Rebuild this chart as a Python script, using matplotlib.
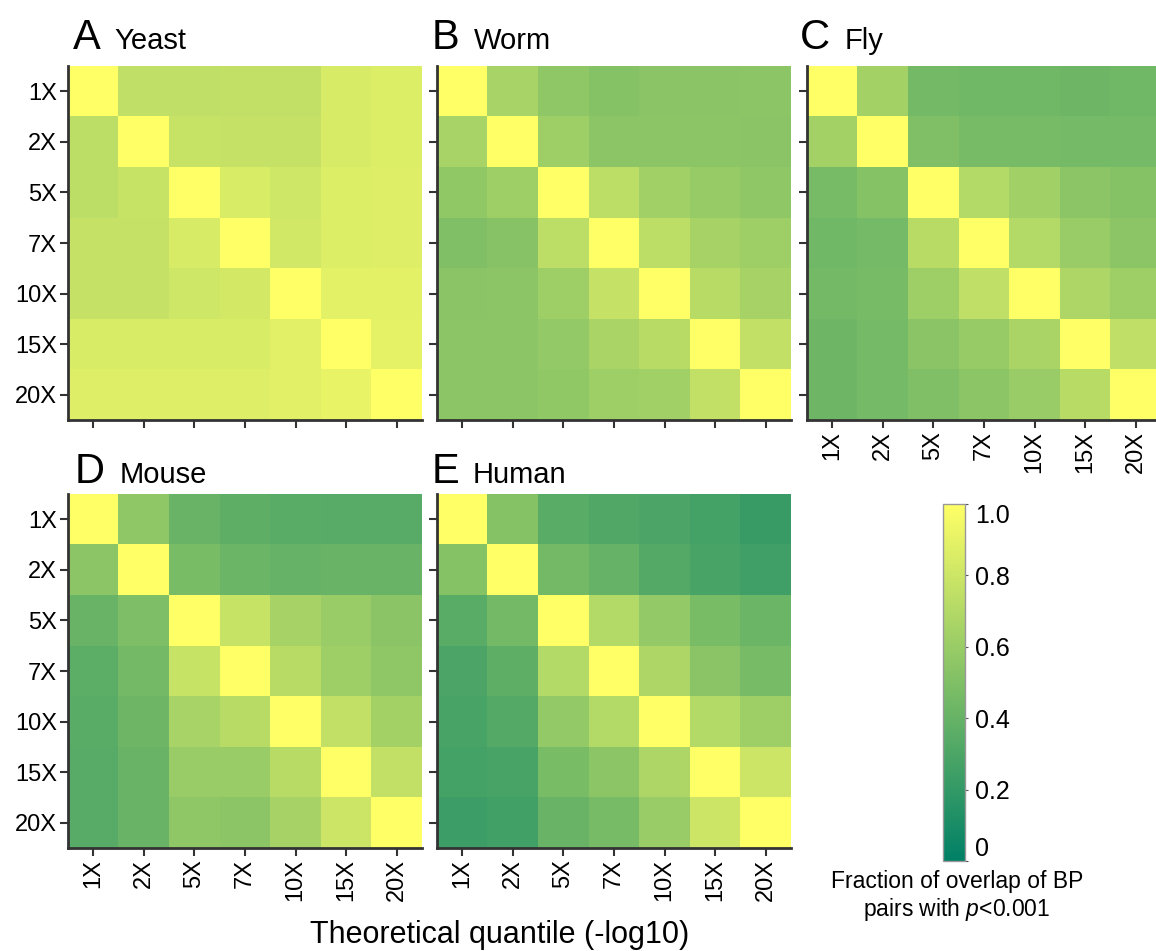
import numpy as np
import matplotlib
matplotlib.use('Agg')
import matplotlib.pyplot as plt

plt.rcParams['font.family'] = ['Liberation Sans', 'DejaVu Sans']
plt.rcParams['mathtext.fontset'] = 'custom'
plt.rcParams['mathtext.it'] = 'Liberation Sans:italic'
plt.rcParams['mathtext.rm'] = 'Liberation Sans'

# Datos
etiquetas = ['1X', '2X', '5X', '7X', '10X', '15X', '20X']

yeast = [
    [1.00, 0.75, 0.75, 0.76, 0.76, 0.84, 0.86],
    [0.74, 1.00, 0.78, 0.77, 0.77, 0.84, 0.86],
    [0.74, 0.78, 1.00, 0.85, 0.81, 0.86, 0.87],
    [0.77, 0.77, 0.84, 1.00, 0.82, 0.86, 0.87],
    [0.77, 0.77, 0.81, 0.83, 1.00, 0.89, 0.89],
    [0.85, 0.85, 0.85, 0.85, 0.88, 1.00, 0.90],
    [0.87, 0.87, 0.87, 0.87, 0.88, 0.91, 1.00],
]
worm = [
    [1.00, 0.66, 0.56, 0.52, 0.54, 0.54, 0.55],
    [0.66, 1.00, 0.62, 0.55, 0.55, 0.55, 0.54],
    [0.57, 0.62, 1.00, 0.74, 0.63, 0.59, 0.56],
    [0.50, 0.53, 0.74, 1.00, 0.74, 0.65, 0.62],
    [0.54, 0.55, 0.62, 0.77, 1.00, 0.72, 0.65],
    [0.55, 0.55, 0.58, 0.67, 0.72, 1.00, 0.76],
    [0.55, 0.55, 0.57, 0.62, 0.63, 0.76, 1.00],
]
fly = [
    [1.00, 0.64, 0.45, 0.44, 0.44, 0.43, 0.44],
    [0.64, 1.00, 0.50, 0.47, 0.47, 0.46, 0.46],
    [0.47, 0.52, 1.00, 0.70, 0.63, 0.55, 0.52],
    [0.44, 0.46, 0.72, 1.00, 0.70, 0.60, 0.55],
    [0.45, 0.47, 0.62, 0.75, 1.00, 0.68, 0.62],
    [0.43, 0.46, 0.54, 0.59, 0.67, 1.00, 0.75],
    [0.43, 0.46, 0.50, 0.55, 0.60, 0.72, 1.00],
]
mouse = [
    [1.00, 0.56, 0.41, 0.37, 0.35, 0.34, 0.34],
    [0.55, 1.00, 0.48, 0.42, 0.40, 0.41, 0.41],
    [0.41, 0.49, 1.00, 0.78, 0.65, 0.60, 0.54],
    [0.36, 0.45, 0.78, 1.00, 0.72, 0.62, 0.56],
    [0.35, 0.43, 0.66, 0.72, 1.00, 0.76, 0.64],
    [0.34, 0.41, 0.60, 0.60, 0.72, 1.00, 0.76],
    [0.34, 0.41, 0.56, 0.55, 0.65, 0.80, 1.00],
]
human = [
    [1.00, 0.52, 0.35, 0.32, 0.30, 0.27, 0.22],
    [0.52, 1.00, 0.45, 0.40, 0.33, 0.28, 0.25],
    [0.35, 0.45, 1.00, 0.70, 0.58, 0.48, 0.42],
    [0.30, 0.37, 0.70, 1.00, 0.68, 0.54, 0.47],
    [0.28, 0.33, 0.58, 0.70, 1.00, 0.70, 0.62],
    [0.27, 0.28, 0.48, 0.55, 0.68, 1.00, 0.80],
    [0.24, 0.26, 0.41, 0.47, 0.60, 0.80, 1.00],
]

W, H = 1156, 951
fig = plt.figure(figsize=(W / 100, H / 100), dpi=100)

def caja(x0, y0, w, h):
    # pixeles -> fraccion de figura
    return [x0 / W, 1 - (y0 + h) / H, w / W, h / H]

# (matriz, letra, nombre, px izquierda, px arriba, ylabels, xlabels, pos letra, pos nombre)
paneles = [
    (yeast, 'A', 'Yeast', 68, 66, True, False, (73, 49), (114, 49)),
    (worm, 'B', 'Worm', 437, 66, False, False, (432, 49), (474, 49)),
    (fly, 'C', 'Fly', 807, 66, False, True, (800, 49), (845, 49)),
    (mouse, 'D', 'Mouse', 68, 494, True, True, (75, 483), (120, 483)),
    (human, 'E', 'Human', 437, 494, False, True, (432, 483), (473, 483)),
]

lado = 354
color_eje = '#333333'
im = None
for datos, letra, nombre, px, py, ylab, xlab, pl, pn in paneles:
    ax = fig.add_axes(caja(px, py, lado, lado))
    im = ax.imshow(np.array(datos), cmap='summer', vmin=0, vmax=1,
                   aspect='auto', interpolation='nearest')
    ax.set_xticks(range(len(etiquetas)))
    ax.set_yticks(range(len(etiquetas)))
    ax.set_xticklabels(etiquetas if xlab else [], rotation=90, fontsize=17)
    ax.set_yticklabels(etiquetas if ylab else [], fontsize=17)
    ax.tick_params(length=6, width=1.5, color=color_eje, pad=2)
    for s in ['top', 'right']:
        ax.spines[s].set_visible(False)
    for s in ['left', 'bottom']:
        ax.spines[s].set_linewidth(2)
        ax.spines[s].set_color(color_eje)
    fig.text(pl[0] / W, 1 - pl[1] / H, letra, fontsize=30, va='baseline', ha='left')
    fig.text(pn[0] / W, 1 - pn[1] / H, nombre, fontsize=21, va='baseline', ha='left')

fig.text(500 / W, 1 - 943 / H, 'Theoretical quantile (-log10)', fontsize=22,
         ha='center', va='baseline')

# Barra de color
cax = fig.add_axes(caja(943, 504, 22, 357))
cb = fig.colorbar(im, cax=cax, ticks=[0, 0.2, 0.4, 0.6, 0.8, 1.0])
cb.ax.set_yticklabels(['0', '0.2', '0.4', '0.6', '0.8', '1.0'], fontsize=18)
cb.ax.tick_params(length=2, width=0.8, color='#555555', pad=5)
ticklbl = cb.ax.get_yticklabels()
ticklbl[0].set_va('bottom')
ticklbl[-1].set_va('top')
cb.outline.set_edgecolor('#999999')
cb.outline.set_linewidth(1)

fig.text(957 / W, 1 - 870 / H, 'Fraction of overlap of BP\npairs with $\\it{p}$<0.001',
         fontsize=16.5, ha='center', va='top', linespacing=1.15)

fig.savefig('out.png', dpi=100)
